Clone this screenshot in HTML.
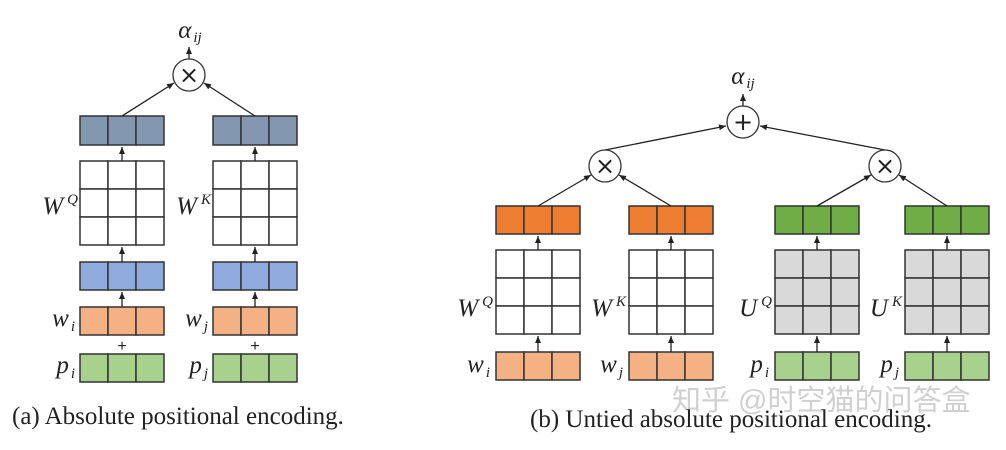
<!DOCTYPE html>
<html><head><meta charset="utf-8"><style>
html,body{margin:0;padding:0;background:#fff;width:1006px;height:450px;overflow:hidden}
svg{display:block}
.m{font-family:"Liberation Serif",serif;font-style:italic;fill:#222}
.cap{font-family:"Liberation Serif",serif;font-size:25px;fill:#222}
</style></head><body>
<svg id="s" width="1006" height="450" viewBox="0 0 1006 450" xmlns="http://www.w3.org/2000/svg">
<defs><marker id="ar" markerWidth="8" markerHeight="8" refX="7" refY="4" orient="auto" markerUnits="userSpaceOnUse"><path d="M0,1 L7,4 L0,7 z" fill="#222"/></marker></defs>
<g id="g"></g>
<text class="cap" x="12" y="424">(a) Absolute positional encoding.</text>
<text x="672" y="410" style="font-family:'Liberation Sans','Noto Sans CJK SC',sans-serif;font-size:29px;fill:#c8c8c8;opacity:0.85">知乎 @时空猫的问答盒</text>
<text class="cap" x="530" y="427">(b) Untied absolute positional encoding.</text>
</svg>
<script>
const NS="http://www.w3.org/2000/svg";
const g=document.getElementById('g');
function mk(tag,attrs,name){const e=document.createElementNS(NS,tag);for(const k in attrs)e.setAttribute(k,attrs[k]);


g.appendChild(e);return e;}
function row(x,y,h,fill,name){for(let i=0;i<3;i++)mk('rect',{x:x+i*28,y:y,width:28,height:h,fill:fill,stroke:'#333','stroke-width':1.5},name);}
function mat(x,y,fill,name){for(let r=0;r<3;r++)row(x,y+r*28,28,fill,name);}
function arrow(x1,y1,x2,y2,name){mk('line',{x1:x1,y1:y1,x2:x2,y2:y2,stroke:'#222','stroke-width':1.3,'marker-end':'url(#ar)'},name);}
function circ(cx,cy,sym,name){mk('circle',{cx:cx,cy:cy,r:16,fill:'#fff',stroke:'#333','stroke-width':1.3},name);
const t=mk('text',{x:cx,y:cy+8,'text-anchor':'middle','font-size':24,'font-family':'DejaVu Sans, sans-serif',fill:'#222'},name+'-symbol');t.textContent=sym;}
function lab(x,y,base,sup,sub,name){const t=mk('text',{x:x,y:y,'text-anchor':'end',class:'m','font-size':25},name);
t.innerHTML=base+(sup?'<tspan dx="4" dy="-10" font-size="15">'+sup+'</tspan>':'')+(sub?'<tspan dx="2" dy="5" font-size="15">'+sub+'</tspan>':'');}
// Left diagram
[[80,'q'],[213,'k']].forEach(([x,n])=>{
 row(x,116,29,'#8497b0','projected-'+n);
 mat(x,161,'#fff','weight-matrix-'+n);
 row(x,262,28,'#8faadc','sum-embedding-'+n);
 row(x,307,28,'#f4b183','word-embedding-'+n);
 row(x,354,28,'#a9d18e','position-embedding-'+n);
 arrow(x+42,262,x+42,247,'arrow-'+n);
 arrow(x+42,307,x+42,292,'arrow-'+n);
 arrow(x+42,161,x+42,147,'arrow-'+n);
 const p=mk('text',{x:x+42,y:351,'text-anchor':'middle','font-size':16,'font-family':'Liberation Sans, sans-serif',fill:'#222'},'plus-'+n);p.textContent='+';
});
arrow(122,116,174,83,'arrow-q-to-mul');arrow(255,116,204,83,'arrow-k-to-mul');
arrow(189,59,189,47,'arrow-out');
circ(189,75,'×','multiply-node');
lab(78,214,'W','Q','','label-wq');lab(211,214,'W','K','','label-wk');
lab(75,326,'w','','i','label-wi');lab(208,326,'w','','j','label-wj');
lab(75,373,'p','','i','label-pi');lab(208,373,'p','','j','label-pj');
const a1=mk('text',{x:190,y:38,'text-anchor':'middle',class:'m','font-size':25},'alpha-a');a1.innerHTML='α<tspan dx="2" dy="4" font-size="15">ij</tspan>';
// Right diagram
const cols=[[496,'#ed7d31','#fff','#f4b183','W','Q','w','i'],[629,'#ed7d31','#fff','#f4b183','W','K','w','j'],
[775,'#70ad47','#d9d9d9','#a9d18e','U','Q','p','i'],[905,'#70ad47','#d9d9d9','#a9d18e','U','K','p','j']];
cols.forEach(([x,top,m,bot,L,sup,b,sub],i)=>{
 row(x,206,28,top,'projected-b-'+i);
 mat(x,250,m,'matrix-b-'+i);
 row(x,352,28,bot,'embedding-b-'+i);
 arrow(x+42,352,x+42,336,'arrow-b-'+i);
 arrow(x+42,250,x+42,236,'arrow-b-'+i);
 lab(x-3,316,L,sup,'','label-matrix-b-'+i);
 lab(x-6,372,b,'',sub,'label-embedding-b-'+i);
});
arrow(538,206,591,175,'arrow-b');arrow(671,206,619,175,'arrow-b');
arrow(817,206,871,175,'arrow-b');arrow(947,206,899,175,'arrow-b');
arrow(605,150,726,126,'arrow-b');arrow(885,150,760,126,'arrow-b');
arrow(743,106,743,94,'arrow-out-b');
circ(605,166,'×','multiply-node-b1');circ(885,166,'×','multiply-node-b2');circ(743,122,'+','add-node');
const a2=mk('text',{x:743,y:84,'text-anchor':'middle',class:'m','font-size':25},'alpha-b');a2.innerHTML='α<tspan dx="2" dy="4" font-size="15">ij</tspan>';
</script>
</body></html>
